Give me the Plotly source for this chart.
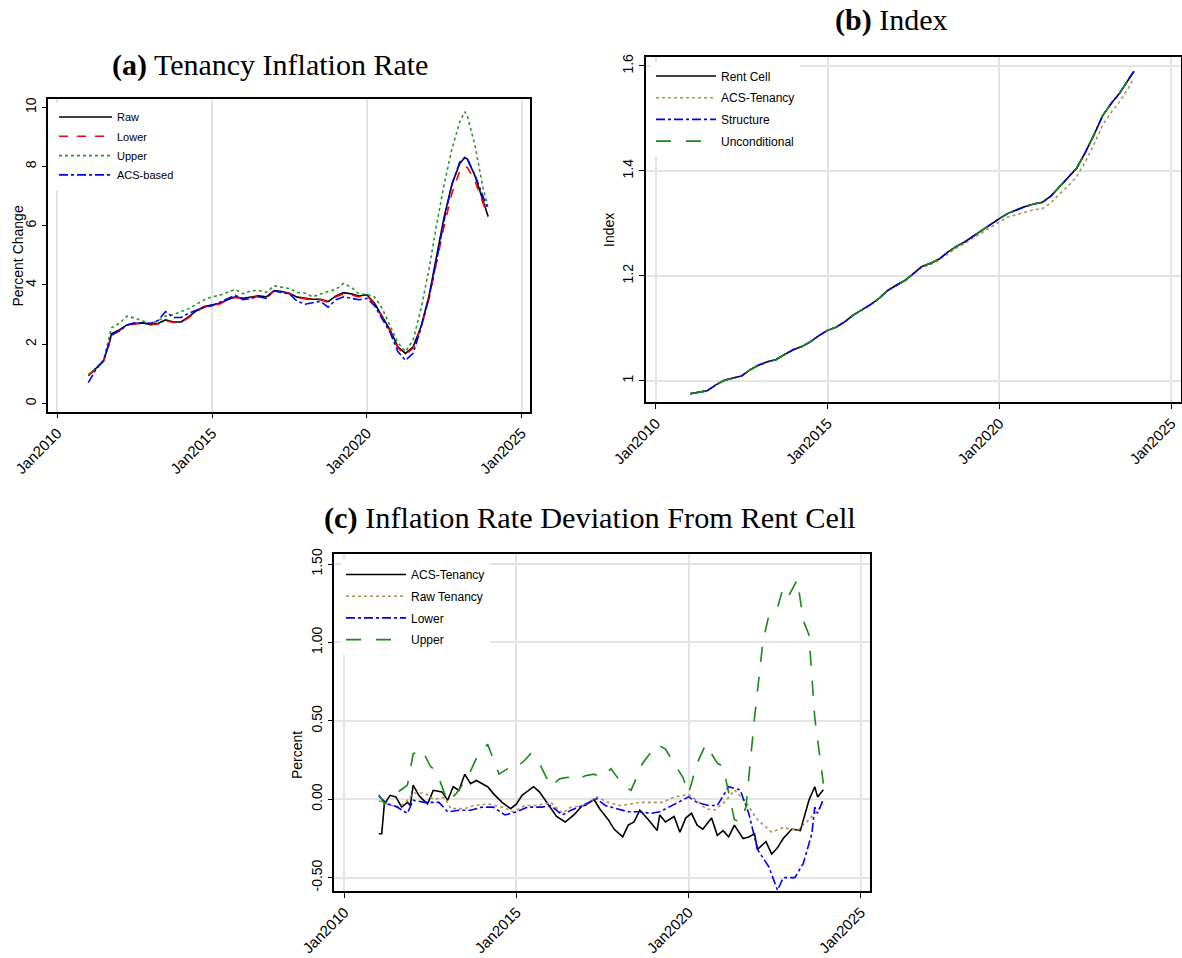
import plotly.graph_objects as go

# ---------------- data ----------------
TICK_VALS = ["2010-01-01", "2015-01-01", "2020-01-01", "2025-01-01"]
TICK_TEXT = ["Jan2010", "Jan2015", "Jan2020", "Jan2025"]

# Panel (a): Tenancy inflation rate (percent change)
months_a = ["2011-01", "2011-04", "2011-07", "2011-09", "2011-10", "2012-01", "2012-04", "2012-07",
            "2012-10", "2013-01", "2013-04", "2013-07", "2013-10", "2014-01", "2014-04", "2014-07",
            "2014-10", "2015-01", "2015-04", "2015-07", "2015-10", "2016-01", "2016-04", "2016-07",
            "2016-10", "2017-01", "2017-04", "2017-07", "2017-10", "2018-01", "2018-04", "2018-07",
            "2018-10", "2019-01", "2019-04", "2019-07", "2019-10", "2020-01", "2020-04", "2020-07",
            "2020-10", "2021-01", "2021-04", "2021-07", "2021-10", "2022-01", "2022-04", "2022-07",
            "2022-10", "2023-01", "2023-03", "2023-04", "2023-07", "2023-10", "2023-12"]
raw_a = [0.95, 1.18, 1.45, 2.0, 2.35, 2.48, 2.65, 2.7, 2.72, 2.67, 2.7, 2.82, 2.75, 2.75, 2.93, 3.13,
         3.27, 3.33, 3.38, 3.5, 3.6, 3.55, 3.6, 3.63, 3.6, 3.81, 3.78, 3.72, 3.59, 3.55, 3.52, 3.52,
         3.44, 3.63, 3.74, 3.70, 3.63, 3.67, 3.38, 2.93, 2.48, 1.91, 1.69, 1.91, 2.6, 3.6, 4.95, 6.3,
         7.4, 8.1, 8.3, 8.25, 7.68, 6.89, 6.32]
lower_a = [0.93, 1.16, 1.43, 1.97, 2.32, 2.45, 2.62, 2.68, 2.7, 2.65, 2.68, 2.8, 2.73, 2.73, 2.9, 3.1,
           3.25, 3.3, 3.36, 3.48, 3.58, 3.53, 3.58, 3.61, 3.58, 3.79, 3.76, 3.7, 3.57, 3.53, 3.5, 3.5,
           3.42, 3.6, 3.7, 3.67, 3.6, 3.64, 3.35, 2.9, 2.45, 1.87, 1.65, 1.87, 2.55, 3.5, 4.8, 6.0,
           7.1, 7.85, 8.0, 7.97, 7.5, 6.8, 6.3]
upper_a = [0.97, 1.2, 1.47, 2.2, 2.55, 2.7, 2.95, 2.88, 2.78, 2.7, 2.78, 2.95, 3.0, 3.1, 3.2, 3.35,
           3.5, 3.6, 3.65, 3.75, 3.85, 3.7, 3.8, 3.82, 3.75, 3.97, 3.93, 3.88, 3.75, 3.72, 3.6, 3.7,
           3.78, 3.85, 4.05, 3.92, 3.7, 3.68, 3.6, 3.2, 2.65, 2.05, 1.75, 2.15, 3.2, 4.5, 6.0, 7.4,
           8.6, 9.5, 9.85, 9.7, 8.7, 7.3, 6.6]
acs_a = [0.7, 1.15, 1.45, 2.0, 2.3, 2.45, 2.65, 2.72, 2.7, 2.7, 2.8, 3.1, 2.9, 2.9, 3.05, 3.15,
         3.25, 3.3, 3.42, 3.55, 3.65, 3.5, 3.55, 3.6, 3.55, 3.8, 3.75, 3.7, 3.45, 3.35, 3.4, 3.45,
         3.25, 3.5, 3.6, 3.55, 3.5, 3.55, 3.3, 2.85, 2.4, 1.75, 1.45, 1.7, 2.55, 3.55, 4.8, 6.2,
         7.4, 8.15, 8.3, 8.25, 7.7, 7.0, 6.55]

# Panel (b): Index
months_b = ["2011-01", "2011-04", "2011-07", "2011-10", "2012-01", "2012-04", "2012-07", "2012-10",
            "2013-01", "2013-04", "2013-07", "2013-10", "2014-01", "2014-04", "2014-07", "2014-10",
            "2015-01", "2015-04", "2015-07", "2015-10", "2016-01", "2016-04", "2016-07", "2016-10",
            "2017-01", "2017-04", "2017-07", "2017-10", "2018-01", "2018-04", "2018-07", "2018-10",
            "2019-01", "2019-04", "2019-07", "2019-10", "2020-01", "2020-04", "2020-07", "2020-10",
            "2021-01", "2021-04", "2021-07", "2021-10", "2022-01", "2022-04", "2022-07", "2022-10",
            "2023-01", "2023-04", "2023-07", "2023-10", "2023-12"]
rent_cell_b = [0.975, 0.978, 0.981, 0.992, 1.001, 1.005, 1.009, 1.021, 1.030, 1.036, 1.040, 1.050,
               1.059, 1.065, 1.074, 1.086, 1.096, 1.102, 1.112, 1.125, 1.135, 1.145, 1.157, 1.172,
               1.182, 1.191, 1.204, 1.218, 1.224, 1.232, 1.245, 1.256, 1.265, 1.276, 1.286, 1.298,
               1.309, 1.319, 1.326, 1.332, 1.337, 1.340, 1.352, 1.370, 1.386, 1.405, 1.435, 1.468,
               1.505, 1.528, 1.548, 1.572, 1.590]
acs_tenancy_b = [0.975, 0.978, 0.981, 0.992, 1.001, 1.005, 1.009, 1.021, 1.030, 1.036, 1.040, 1.050,
                 1.059, 1.065, 1.074, 1.086, 1.096, 1.102, 1.112, 1.125, 1.135, 1.145, 1.157, 1.172,
                 1.181, 1.190, 1.203, 1.216, 1.222, 1.230, 1.242, 1.253, 1.262, 1.273, 1.282, 1.293,
                 1.303, 1.312, 1.317, 1.322, 1.326, 1.328, 1.339, 1.356, 1.371, 1.389, 1.417, 1.450,
                 1.487, 1.511, 1.532, 1.557, 1.577]
structure_b = [0.975, 0.978, 0.981, 0.992, 1.001, 1.005, 1.009, 1.021, 1.030, 1.036, 1.040, 1.050,
               1.059, 1.065, 1.074, 1.086, 1.096, 1.102, 1.112, 1.125, 1.135, 1.145, 1.157, 1.172,
               1.182, 1.191, 1.204, 1.218, 1.224, 1.232, 1.245, 1.256, 1.265, 1.276, 1.286, 1.298,
               1.309, 1.319, 1.326, 1.332, 1.337, 1.340, 1.352, 1.370, 1.386, 1.405, 1.435, 1.468,
               1.505, 1.528, 1.548, 1.572, 1.590]
unconditional_b = [0.975, 0.978, 0.981, 0.992, 1.001, 1.005, 1.009, 1.021, 1.030, 1.036, 1.040, 1.050,
                   1.059, 1.065, 1.074, 1.086, 1.096, 1.102, 1.112, 1.125, 1.135, 1.145, 1.157, 1.172,
                   1.182, 1.191, 1.204, 1.218, 1.224, 1.232, 1.245, 1.256, 1.265, 1.276, 1.286, 1.298,
                   1.309, 1.319, 1.326, 1.332, 1.337, 1.340, 1.352, 1.370, 1.386, 1.405, 1.435, 1.468,
                   1.505, 1.528, 1.548, 1.572, 1.590]

# Panel (c): Inflation rate deviation from Rent Cell (percent)
months_c_acs = ["2011-01", "2011-02", "2011-03", "2011-05", "2011-07", "2011-09", "2011-11", "2011-12",
                "2012-01", "2012-03", "2012-04", "2012-06", "2012-08", "2012-11", "2013-01", "2013-03",
                "2013-05", "2013-07", "2013-09", "2013-11", "2014-03", "2014-05", "2014-08", "2014-11",
                "2015-01", "2015-03", "2015-07", "2015-09", "2015-12", "2016-03", "2016-06", "2016-09",
                "2016-12", "2017-01", "2017-04", "2017-06", "2017-09", "2017-11", "2018-02", "2018-04",
                "2018-06", "2018-08", "2018-11", "2019-02", "2019-03", "2019-05", "2019-08", "2019-10",
                "2019-12", "2020-02", "2020-04", "2020-06", "2020-09", "2020-11", "2021-01", "2021-03",
                "2021-05", "2021-08", "2021-10", "2021-12", "2022-01", "2022-04", "2022-06", "2022-08",
                "2022-10", "2023-01", "2023-04", "2023-07", "2023-09", "2023-10", "2023-12"]
acs_tenancy_c = [-0.22, -0.22, -0.03, 0.025, 0.015, -0.05, -0.02, -0.04,
                 0.09, 0.025, 0.004, -0.03, 0.057, 0.047, -0.006, 0.08,
                 0.057, 0.16, 0.1, 0.12, 0.08, 0.036, -0.02, -0.06,
                 -0.03, 0.025, 0.08, 0.047, -0.03, -0.11, -0.145, -0.10,
                 -0.04, -0.04, 0.0, -0.06, -0.13, -0.19, -0.24, -0.165,
                 -0.145, -0.07, -0.13, -0.2, -0.10, -0.145, -0.11, -0.21,
                 -0.12, -0.09, -0.165, -0.19, -0.12, -0.23, -0.20, -0.24,
                 -0.165, -0.25, -0.24, -0.22, -0.32, -0.27, -0.35, -0.31,
                 -0.25, -0.19, -0.2, -0.006, 0.08, 0.015, 0.06]
months_c_raw = ["2011-01", "2011-07", "2011-10", "2012-01", "2012-05", "2012-08", "2012-12", "2013-02",
                "2013-07", "2013-10", "2014-03", "2014-08", "2014-12", "2015-04", "2015-08", "2016-01",
                "2016-05", "2016-08", "2017-01", "2017-05", "2017-09", "2018-01", "2018-05", "2018-08",
                "2019-01", "2019-04", "2019-08", "2020-01", "2020-04", "2020-07", "2020-10", "2021-02",
                "2021-05", "2021-09", "2022-01", "2022-06", "2022-10", "2023-03", "2023-07", "2023-12"]
raw_tenancy_c = [-0.01, -0.05, -0.03, 0.04, 0.04, 0.0, 0.01, -0.06,
                 -0.06, -0.04, -0.03, -0.05, -0.08, -0.04, -0.04, -0.02,
                 -0.09, -0.05, -0.04, 0.015, -0.02, -0.04, -0.03, -0.02,
                 -0.02, -0.02, 0.015, 0.03, -0.01, -0.06, -0.07, -0.01,
                 0.06, -0.02, -0.13, -0.21, -0.18, -0.2, -0.13, -0.03]
months_c_lower = ["2011-01", "2011-04", "2011-07", "2011-11", "2012-01", "2012-05", "2012-10", "2013-01",
                  "2013-05", "2013-09", "2014-01", "2014-05", "2014-09", "2015-01", "2015-05", "2015-10",
                  "2016-01", "2016-05", "2016-08", "2016-12", "2017-05", "2017-08", "2017-12", "2018-04",
                  "2018-08", "2018-12", "2019-03", "2019-08", "2020-01", "2020-04", "2020-08", "2020-11",
                  "2021-03", "2021-07", "2021-10", "2022-01", "2022-05", "2022-08", "2022-10", "2023-02",
                  "2023-05", "2023-08", "2023-09", "2023-10", "2023-12"]
lower_c = [0.02, -0.03, -0.045, -0.09, -0.006, -0.02, -0.02, -0.08,
           -0.07, -0.07, -0.05, -0.05, -0.10, -0.08, -0.05, -0.05,
           -0.04, -0.10, -0.07, -0.04, 0.004, -0.04, -0.06, -0.08,
           -0.08, -0.09, -0.08, -0.03, 0.015, -0.02, -0.04, -0.04,
           0.08, 0.06, -0.09, -0.32, -0.43, -0.58, -0.5, -0.5,
           -0.41, -0.22, -0.05, -0.09, 0.0]
months_c_upper = ["2011-01", "2011-03", "2011-07", "2011-11", "2012-01", "2012-04", "2012-07", "2012-09",
                  "2013-01", "2013-04", "2013-08", "2013-11", "2014-03", "2014-07", "2014-10", "2014-12",
                  "2015-04", "2015-06", "2015-09", "2016-01", "2016-04", "2016-07", "2016-09", "2017-01",
                  "2017-04", "2017-07", "2017-10", "2018-02", "2018-05", "2018-09", "2019-02", "2019-05",
                  "2019-08", "2019-11", "2020-01", "2020-04", "2020-07", "2020-11", "2021-01", "2021-05",
                  "2021-07", "2021-09", "2021-12", "2022-03", "2022-05", "2022-08", "2022-10", "2022-12",
                  "2023-03", "2023-05", "2023-07", "2023-09", "2023-12"]
upper_c = [0.03, -0.03, 0.036, 0.09, 0.29, 0.32, 0.21, 0.18,
           -0.017, 0.036, 0.14, 0.26, 0.35, 0.16, 0.195, 0.185,
           0.25, 0.29, 0.23, 0.08, 0.13, 0.14, 0.12, 0.15,
           0.16, 0.14, 0.195, 0.09, 0.057, 0.23, 0.35, 0.32,
           0.23, 0.14, 0.036, 0.23, 0.35, 0.23, 0.21, -0.13,
           -0.145, -0.05, 0.52, 1.01, 1.17, 1.22, 1.35, 1.30,
           1.40, 1.14, 1.05, 0.52, 0.10]

# ---------------- styling helpers ----------------
W, H = 1182, 958
SANS = "Liberation Sans, Arial, sans-serif"
SERIF = "Liberation Serif, Times New Roman, serif"
GRID = "#e3e3e3"
GREEN_A = "#2a962a"
GREEN = "#138a13"
TAN = "#ad9260"
BLUE = "#0000ff"
RED = "#ff0000"


def fx(p):
    return p / W


def fy(p):
    return 1 - p / H


def xcfg(left, right, anchor):
    return dict(domain=[fx(left), fx(right)], anchor=anchor, type="date", automargin=False,
                range=["2009-09-16", "2025-04-09"], tickvals=TICK_VALS, ticktext=TICK_TEXT,
                tickangle=-45, ticks="outside", ticklen=5, tickcolor="black", tickwidth=1,
                showline=True, linecolor="black", linewidth=1.5, mirror=True,
                showgrid=True, gridcolor=GRID, gridwidth=1.5, zeroline=False,
                tickfont=dict(family=SANS, size=15, color="black"))


def ycfg(top, bottom, anchor, rng, tv, tt, grid):
    return dict(domain=[fy(bottom), fy(top)], anchor=anchor, range=rng, automargin=False,
                tickvals=tv, ticktext=tt, tickangle=-90,
                ticks="outside", ticklen=5, tickcolor="black", tickwidth=1,
                showline=True, linecolor="black", linewidth=1.5, mirror=True,
                showgrid=grid, gridcolor=GRID, gridwidth=1.5, zeroline=False,
                tickfont=dict(family=SANS, size=14, color="black"))


def text_ann(text, x, y, size, family, angle=0):
    return dict(text=text, x=fx(x), y=fy(y), xref="paper", yref="paper",
                xanchor="center", yanchor="middle", showarrow=False, textangle=angle,
                font=dict(family=family, size=size, color="black"))


fig = go.Figure()

# Panel (a)
for name, ys, color, dash in [("Raw", raw_a, "black", "solid"),
                              ("Lower", lower_a, RED, "dash"),
                              ("Upper", upper_a, GREEN_A, "dot"),
                              ("ACS-based", acs_a, BLUE, "dashdot")]:
    fig.add_trace(go.Scatter(x=months_a, y=ys, mode="lines", name=name, legendgroup="a_" + name,
                             line=dict(color=color, width=1.6, dash=dash),
                             xaxis="x", yaxis="y", legend="legend"))

# Panel (b)
for name, ys, color, dash in [("Rent Cell", rent_cell_b, "black", "solid"),
                              ("ACS-Tenancy", acs_tenancy_b, TAN, "dot"),
                              ("Structure", structure_b, BLUE, "dashdot"),
                              ("Unconditional", unconditional_b, GREEN, "longdash")]:
    fig.add_trace(go.Scatter(x=months_b, y=ys, mode="lines", name=name, legendgroup="b_" + name,
                             line=dict(color=color, width=1.6, dash=dash),
                             xaxis="x2", yaxis="y2", legend="legend2"))

# Panel (c)
for name, xs, ys, color, dash in [("ACS-Tenancy", months_c_acs, acs_tenancy_c, "black", "solid"),
                                  ("Raw Tenancy", months_c_raw, raw_tenancy_c, TAN, "dot"),
                                  ("Lower", months_c_lower, lower_c, BLUE, "dashdot"),
                                  ("Upper", months_c_upper, upper_c, GREEN, "longdash")]:
    fig.add_trace(go.Scatter(x=xs, y=ys, mode="lines", name=name, legendgroup="c_" + name,
                             line=dict(color=color, width=1.6, dash=dash),
                             xaxis="x3", yaxis="y3", legend="legend3"))

legend_common = dict(xanchor="left", yanchor="top", bgcolor="white", borderwidth=0)

fig.update_layout(
    width=W, height=H, margin=dict(l=0, r=0, t=0, b=0),
    paper_bgcolor="white", plot_bgcolor="white", showlegend=True,
    xaxis=xcfg(48.3, 530, "y"),
    yaxis=ycfg(99.3, 411.7, "x", [-0.28, 10.27], [0, 2, 4, 6, 8, 10],
               ["0", "2", "4", "6", "8", "10"], False),
    xaxis2=xcfg(645.7, 1180.5, "y2"),
    yaxis2=ycfg(56.7, 402, "x2", [0.9594, 1.6177], [1.0, 1.2, 1.4, 1.6],
                ["1", "1.2", "1.4", "1.6"], True),
    xaxis3=xcfg(334.3, 870, "y3"),
    yaxis3=ycfg(554.3, 891, "x3", [-0.585, 1.562], [-0.5, 0.0, 0.5, 1.0, 1.5],
                ["-0.50", "0.00", "0.50", "1.00", "1.50"], True),
    legend=dict(x=fx(54), y=fy(102.5), font=dict(family=SANS, size=11, color="black"),
                tracegroupgap=0.3, itemwidth=53, **legend_common),
    legend2=dict(x=fx(651), y=fy(61.5), font=dict(family=SANS, size=12, color="black"),
                 tracegroupgap=2.7, itemwidth=60, **legend_common),
    legend3=dict(x=fx(341), y=fy(560), font=dict(family=SANS, size=12, color="black"),
                 tracegroupgap=2.7, itemwidth=60, **legend_common),
    annotations=[
        text_ann("<b>(a)</b> Tenancy Inflation Rate", 270, 65, 30, SERIF),
        text_ann("<b>(b)</b> Index", 891, 20, 30, SERIF),
        text_ann("<b>(c)</b> Inflation Rate Deviation From Rent Cell", 590, 518, 30.3, SERIF),
        text_ann("Percent Change", 17.5, 256, 14, SANS, -90),
        text_ann("Index", 609, 230, 14, SANS, -90),
        text_ann("Percent", 297, 755, 14, SANS, -90),
    ],
)

fig.write_html("out.html")
